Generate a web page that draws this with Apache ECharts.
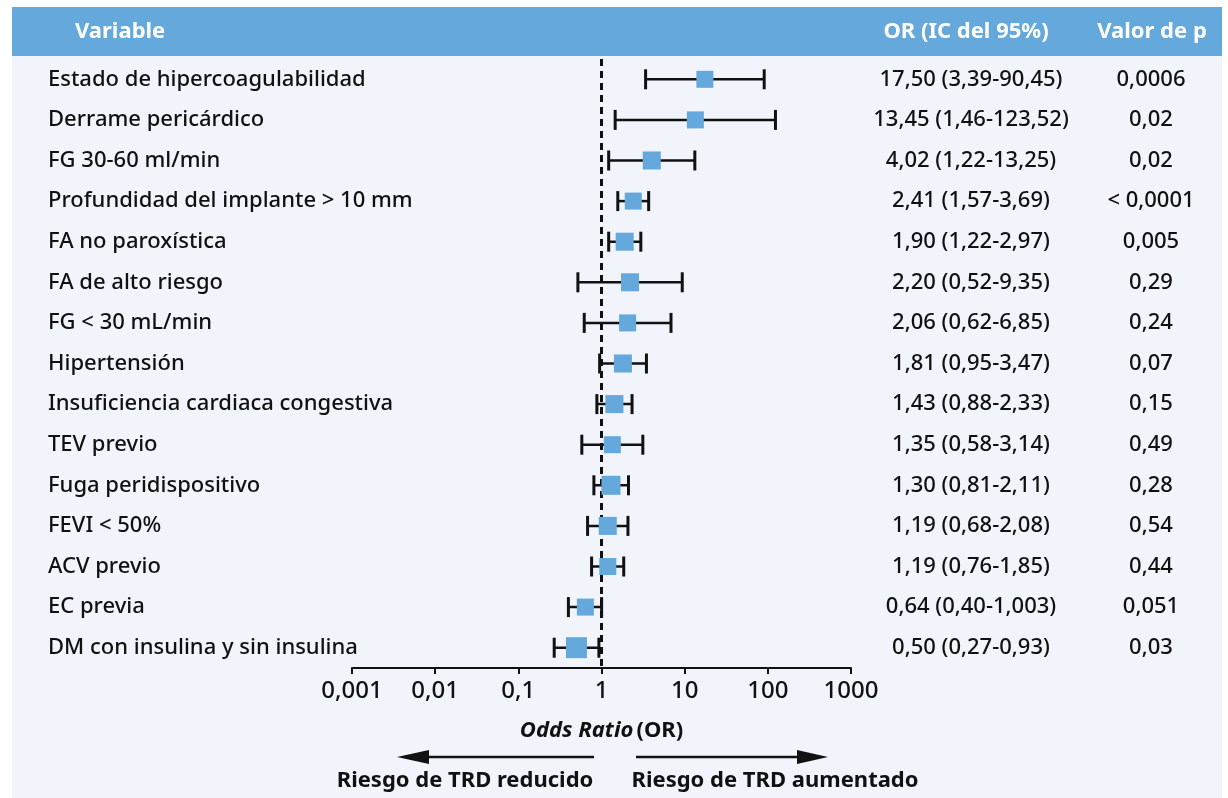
<!DOCTYPE html>
<html>
<head>
<meta charset="utf-8">
<title>Odds Ratio</title>
<script src="https://cdn.jsdelivr.net/npm/echarts@6/dist/echarts.min.js"></script>
<style>
  html, body { margin: 0; padding: 0; background: #ffffff; }
  #chart { width: 1228px; height: 798px; }
</style>
</head>
<body>
<div id="chart"></div>
<script>
// Variables, odds ratios and 95% confidence limits
const categories = [
  'Estado de hipercoagulabilidad',
  'Derrame pericárdico',
  'FG 30-60 ml/min',
  'Profundidad del implante > 10 mm',
  'FA no paroxística',
  'FA de alto riesgo',
  'FG < 30 mL/min',
  'Hipertensión',
  'Insuficiencia cardiaca congestiva',
  'TEV previo',
  'Fuga peridispositivo',
  'FEVI < 50%',
  'ACV previo',
  'EC previa',
  'DM con insulina y sin insulina'
];
const orValues = [17.50, 13.45, 4.02, 2.41, 1.90, 2.20, 2.06, 1.81, 1.43, 1.35, 1.30, 1.19, 1.19, 0.64, 0.50];
const ciLower  = [3.39, 1.46, 1.22, 1.57, 1.22, 0.52, 0.62, 0.95, 0.88, 0.58, 0.81, 0.68, 0.76, 0.40, 0.27];
const ciUpper  = [90.45, 123.52, 13.25, 3.69, 2.97, 9.35, 6.85, 3.47, 2.33, 3.14, 2.11, 2.08, 1.85, 1.003, 0.93];
const pValues  = ['0,0006', '0,02', '0,02', '< 0,0001', '0,005', '0,29', '0,24', '0,07', '0,15', '0,49', '0,28', '0,54', '0,44', '0,051', '0,03'];
const tickLabels = ['0,001', '0,01', '0,1', '1', '10', '100', '1000'];

// Marker square edge (px) per row
const boxSize = [17, 17, 18, 17, 18, 18, 17, 18, 18, 17, 19, 18, 17, 17, 21];

const FONT = '"Noto Sans", "Open Sans", sans-serif';
const BLUE = '#65A8DB';
const PANEL = '#F1F4FB';
const INK = '#111111';

// Decimal comma, at least two decimals
function fmt(v) {
  let s = v.toFixed(2);
  if (Number(s) !== v) s = String(v);
  return s.replace('.', ',');
}
const orText = orValues.map((v, i) => fmt(v) + ' (' + fmt(ciLower[i]) + '-' + fmt(ciUpper[i]) + ')');

const seriesData = categories.map((c, i) => [orValues[i], i, ciLower[i], ciUpper[i]]);

const chart = echarts.init(document.getElementById('chart'), null, { renderer: 'canvas' });

const rowText = { fontSize: 22, fontWeight: 500, color: INK, fontFamily: FONT };

const option = {
  backgroundColor: '#ffffff',
  animation: false,
  textStyle: { fontFamily: FONT },
  grid: { left: 352, right: 377, top: 59, height: 609 },
  xAxis: {
    type: 'log',
    logBase: 10,
    min: 0.001,
    max: 1000,
    interval: 1,
    axisLine: { show: true, lineStyle: { color: INK, width: 2 } },
    axisTick: { show: true, length: 6, lineStyle: { color: INK, width: 2 } },
    minorTick: { show: false },
    splitLine: { show: false },
    axisLabel: {
      fontSize: 24, fontWeight: 500, color: INK, margin: 11, fontFamily: FONT,
      formatter: v => tickLabels[Math.round(Math.log10(v)) + 3]
    },
    name: '{a|Odds Ratio} {b|(OR)}',
    nameLocation: 'middle',
    nameGap: 52,
    nameTextStyle: {
      rich: {
        a: { fontSize: 22, fontStyle: 'italic', fontWeight: 'bold', color: INK, fontFamily: FONT },
        b: { fontSize: 22, fontWeight: 'bold', color: INK, fontFamily: FONT }
      }
    }
  },
  yAxis: [
    {
      type: 'category', data: categories, inverse: true,
      axisLine: { show: false }, axisTick: { show: false }, splitLine: { show: false },
      axisLabel: Object.assign({ align: 'left', margin: 304 }, rowText)
    },
    {
      type: 'category', data: categories, inverse: true, position: 'right',
      axisLine: { show: false }, axisTick: { show: false }, splitLine: { show: false },
      axisLabel: Object.assign({ align: 'center', margin: 120, formatter: (v, i) => orText[i] }, rowText)
    },
    {
      type: 'category', data: categories, inverse: true, position: 'right',
      axisLine: { show: false }, axisTick: { show: false }, splitLine: { show: false },
      axisLabel: Object.assign({ align: 'center', margin: 300, formatter: (v, i) => pValues[i] }, rowText)
    }
  ],
  graphic: [
    { type: 'rect', z: -10, silent: true, shape: { x: 12, y: 56, width: 1210, height: 742 }, style: { fill: PANEL } },
    { type: 'rect', z: -10, silent: true, shape: { x: 12, y: 7, width: 1210, height: 49 }, style: { fill: BLUE } },
    { type: 'text', x: 75, y: 32, style: { text: 'Variable', fill: '#ffffff', font: 'bold 22px ' + FONT, verticalAlign: 'middle', align: 'left' } },
    { type: 'text', x: 966, y: 32, style: { text: 'OR (IC del 95%)', fill: '#ffffff', font: 'bold 22px ' + FONT, verticalAlign: 'middle', align: 'center' } },
    { type: 'text', x: 1152, y: 32, style: { text: 'Valor de p', fill: '#ffffff', font: 'bold 22px ' + FONT, verticalAlign: 'middle', align: 'center' } },
    // direction arrows under the axis
    { type: 'line', shape: { x1: 426, y1: 757, x2: 594, y2: 757 }, style: { stroke: INK, lineWidth: 2.5 } },
    { type: 'polygon', shape: { points: [[397, 757], [429, 750], [429, 764]] }, style: { fill: INK } },
    { type: 'line', shape: { x1: 636, y1: 757, x2: 800, y2: 757 }, style: { stroke: INK, lineWidth: 2.5 } },
    { type: 'polygon', shape: { points: [[828, 757], [797, 750], [797, 764]] }, style: { fill: INK } },
    { type: 'text', x: 465, y: 781, style: { text: 'Riesgo de TRD reducido', fill: INK, font: 'bold 22px ' + FONT, verticalAlign: 'middle', align: 'center' } },
    { type: 'text', x: 775, y: 781, style: { text: 'Riesgo de TRD aumentado', fill: INK, font: 'bold 22px ' + FONT, verticalAlign: 'middle', align: 'center' } }
  ],
  series: [
    {
      type: 'custom',
      xAxisIndex: 0,
      yAxisIndex: 0,
      encode: { x: [0, 2, 3], y: 1 },
      data: seriesData,
      z: 5,
      renderItem: function (params, api) {
        const row = api.value(1);
        const c = api.coord([api.value(0), row]);
        const lo = api.coord([api.value(2), row]);
        const hi = api.coord([api.value(3), row]);
        const s = boxSize[params.dataIndex];
        const cap = 10;
        const ls = { stroke: INK, lineWidth: 2.5 };
        return {
          type: 'group',
          children: [
            { type: 'line', shape: { x1: lo[0], y1: c[1], x2: hi[0], y2: c[1] }, style: ls },
            { type: 'line', shape: { x1: lo[0], y1: c[1] - cap, x2: lo[0], y2: c[1] + cap }, style: { stroke: INK, lineWidth: 3 } },
            { type: 'line', shape: { x1: hi[0], y1: c[1] - cap, x2: hi[0], y2: c[1] + cap }, style: { stroke: INK, lineWidth: 3 } },
            { type: 'rect', shape: { x: c[0] - s / 2, y: c[1] - s / 2, width: s, height: s }, style: { fill: BLUE } }
          ]
        };
      },
      markLine: {
        silent: true,
        symbol: 'none',
        label: { show: false },
        lineStyle: { color: INK, width: 3, type: [7, 5] },
        data: [{ xAxis: 1 }]
      }
    }
  ]
};

chart.setOption(option);
</script>
</body>
</html>
